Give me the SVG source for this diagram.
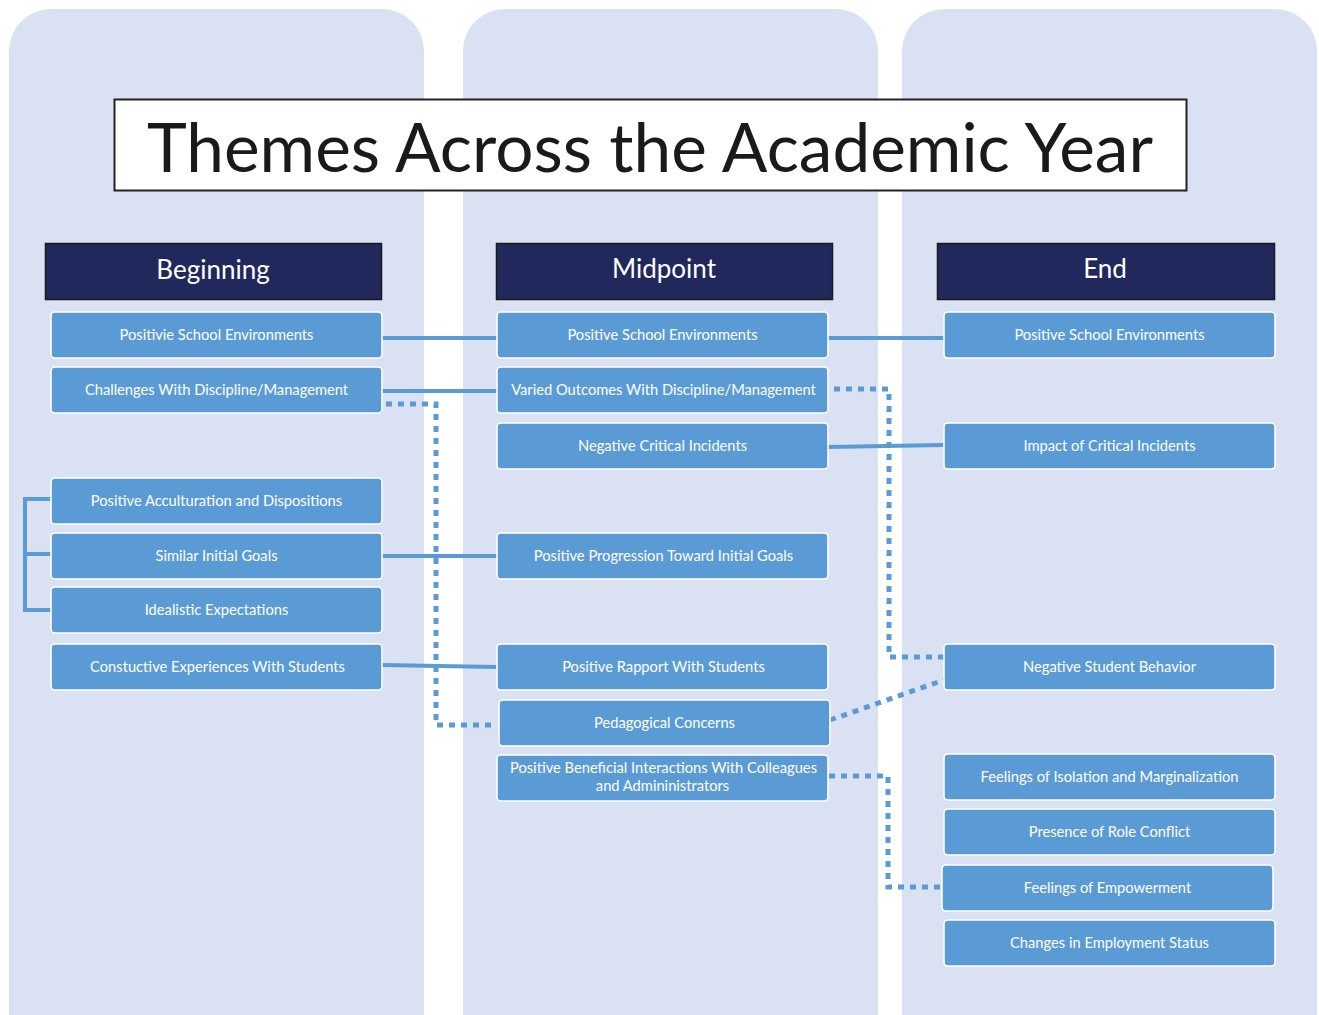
<svg xmlns="http://www.w3.org/2000/svg" width="1319" height="1015" viewBox="0 0 1319 1015">
<style>
.col{fill:#dae1f3}
.hdr{fill:#21285b;stroke:#1a1a1a;stroke-width:1.5}
.hdrt{font-family:Lato,"Open Sans",sans-serif;font-size:26px;fill:#fff;text-anchor:middle}
.box{fill:#5b9bd5;stroke:#fff;stroke-width:1.6}
.lbl{font-family:Lato,"Open Sans",sans-serif;font-size:14.7px;fill:#fff;text-anchor:middle}
.solid{fill:none;stroke:#5b9bd5;stroke-width:4}
.dot{fill:none;stroke:#5b9bd5;stroke-width:5;stroke-dasharray:6 6}
</style>
<rect width="1319" height="1015" fill="#fff"/>
<g id="columns">
<rect class="col" x="9" y="9" width="415" height="1060" rx="42"/>
<rect class="col" x="463" y="9" width="415" height="1060" rx="42"/>
<rect class="col" x="902" y="9" width="415" height="1060" rx="42"/>
</g>
<g id="title">
<rect x="114.5" y="99.5" width="1072" height="91" fill="#fff" stroke="#222" stroke-width="2"/>
<text x="650" y="172" font-family="Lato,'Open Sans',sans-serif" font-size="68" fill="#1a1a1a" text-anchor="middle" textLength="1006" lengthAdjust="spacingAndGlyphs">Themes Across the Academic Year</text>
</g>
<g id="headers">
<g id="h-beginning"><rect class="hdr" x="45.5" y="243.5" width="336" height="56"/><text class="hdrt" x="213" y="279">Beginning</text></g>
<g id="h-midpoint"><rect class="hdr" x="496.5" y="243.5" width="336" height="56"/><text class="hdrt" x="664" y="278">Midpoint</text></g>
<g id="h-end"><rect class="hdr" x="937.5" y="243.5" width="337" height="56"/><text class="hdrt" x="1105" y="278">End</text></g>
</g>
<g id="connectors">
<path class="solid" d="M382 338H497M828 338H944"/>
<path class="solid" d="M382 391H497"/>
<path class="solid" d="M828 447L944 445"/>
<path class="solid" d="M382 556H497"/>
<path class="solid" d="M382 665L497 667"/>
<path class="solid" d="M51 499H25V610H51M25 554H51"/>
<path class="dot" d="M386 404H436V725H496"/>
<path class="dot" d="M834 389H889V657H944"/>
<path class="dot" d="M830 720L944 680"/>
<path class="dot" d="M829 776H888V887H942"/>
</g>
<g id="n1"><rect class="box" x="51" y="312" width="331" height="46" rx="4"/><text class="lbl" x="216.5" y="340">Positivie School Environments</text></g>
<g id="n2"><rect class="box" x="51" y="367" width="331" height="46" rx="4"/><text class="lbl" x="216.5" y="395">Challenges With Discipline/Management</text></g>
<g id="n3"><rect class="box" x="51" y="478" width="331" height="46" rx="4"/><text class="lbl" x="216.5" y="506">Positive Acculturation and Dispositions</text></g>
<g id="n4"><rect class="box" x="51" y="533" width="331" height="46" rx="4"/><text class="lbl" x="216.5" y="561">Similar Initial Goals</text></g>
<g id="n5"><rect class="box" x="51" y="587" width="331" height="46" rx="4"/><text class="lbl" x="216.5" y="615">Idealistic Expectations</text></g>
<g id="n6"><rect class="box" x="51" y="644" width="331" height="46" rx="4"/><text class="lbl" x="217.5" y="672">Constuctive Experiences With Students</text></g>
<g id="m1"><rect class="box" x="497" y="312" width="331" height="46" rx="4"/><text class="lbl" x="662.5" y="340">Positive School Environments</text></g>
<g id="m2"><rect class="box" x="497" y="367" width="331" height="46" rx="4"/><text class="lbl" x="663.5" y="395">Varied Outcomes With Discipline/Management</text></g>
<g id="m3"><rect class="box" x="497" y="423" width="331" height="46" rx="4"/><text class="lbl" x="662.5" y="451">Negative Critical Incidents</text></g>
<g id="m4"><rect class="box" x="497" y="533" width="331" height="46" rx="4"/><text class="lbl" x="663.5" y="561">Positive Progression Toward Initial Goals</text></g>
<g id="m5"><rect class="box" x="497" y="644" width="331" height="46" rx="4"/><text class="lbl" x="663.5" y="672">Positive Rapport With Students</text></g>
<g id="m6"><rect class="box" x="499" y="700" width="331" height="46" rx="4"/><text class="lbl" x="664.5" y="728">Pedagogical Concerns</text></g>
<g id="m7"><rect class="box" x="497" y="755" width="331" height="46" rx="4"/><text class="lbl" x="663.5" y="773">Positive Beneficial Interactions With Colleagues</text><text class="lbl" x="662.5" y="791">and Admininistrators</text></g>
<g id="e1"><rect class="box" x="944" y="312" width="331" height="46" rx="4"/><text class="lbl" x="1109.5" y="340">Positive School Environments</text></g>
<g id="e2"><rect class="box" x="944" y="423" width="331" height="46" rx="4"/><text class="lbl" x="1109.5" y="451">Impact of Critical Incidents</text></g>
<g id="e3"><rect class="box" x="944" y="644" width="331" height="46" rx="4"/><text class="lbl" x="1109.5" y="672">Negative Student Behavior</text></g>
<g id="e4"><rect class="box" x="944" y="754" width="331" height="46" rx="4"/><text class="lbl" x="1109.5" y="782">Feelings of Isolation and Marginalization</text></g>
<g id="e5"><rect class="box" x="944" y="809" width="331" height="46" rx="4"/><text class="lbl" x="1109.5" y="837">Presence of Role Conflict</text></g>
<g id="e6"><rect class="box" x="942" y="865" width="331" height="46" rx="4"/><text class="lbl" x="1107.5" y="893">Feelings of Empowerment</text></g>
<g id="e7"><rect class="box" x="944" y="920" width="331" height="46" rx="4"/><text class="lbl" x="1109.5" y="948">Changes in Employment Status</text></g>
</svg>
